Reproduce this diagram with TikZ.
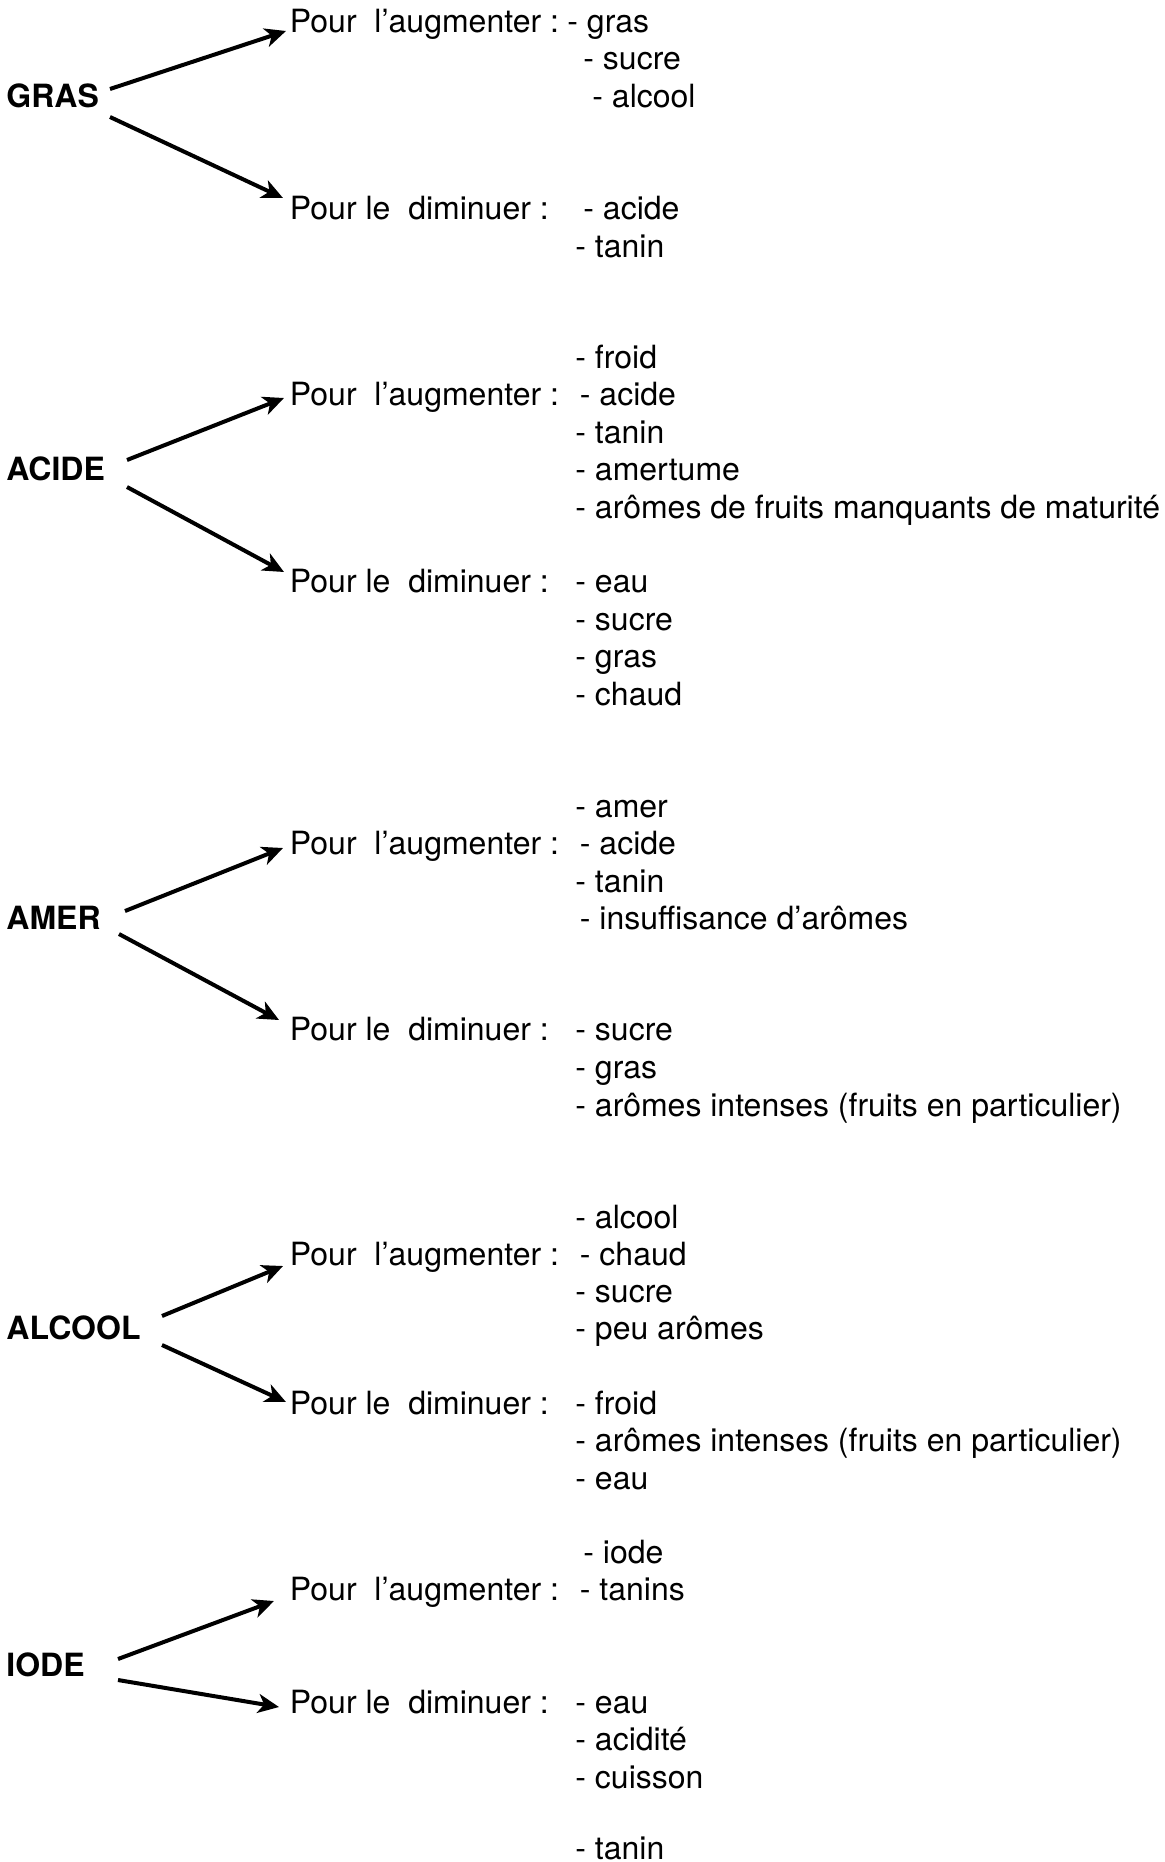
\documentclass[tikz,border=0pt]{standalone}
\usepackage{fontspec}
\setmainfont{TeX Gyre Heros}
\usetikzlibrary{arrows.meta}
\begin{document}
\begin{tikzpicture}[x=0.5pt,y=-0.5pt,
  txt/.style={anchor=base west,inner sep=0pt,font=\fontsize{16}{18}\selectfont},
  lbl/.style={txt,font=\fontsize{16}{18}\selectfont\bfseries},
  arr/.style={line width=2pt,-{Stealth[length=10.5pt,width=9.5pt,inset=3pt]}}]
\useasboundingbox (0,0) rectangle (1164,1862);
% ---------- GRAS
\node[lbl] (g) at (6,107.5) {GRAS};
\node[txt] (gp) at (289.5,33) {Pour\ \ l’augmenter :};
\node[txt] (g1) at (567,33) {- gras};
\node[txt] (g2) at (583,70) {- sucre};
\node[txt] (g3) at (592,107.5) {- alcool};
\node[txt] (gm) at (289.5,219.5) {Pour le\ \ diminuer :};
\node[txt] (g4) at (583,219.5) {- acide};
\node[txt] (g5) at (575,257) {- tanin};
\coordinate (gs1) at (110,89);  \coordinate (ge1) at (286,31);
\coordinate (gs2) at (110,117); \coordinate (ge2) at (283,198);
\draw[arr] (gs1) -- (ge1);
\draw[arr] (gs2) -- (ge2);
% ---------- ACIDE
\node[lbl] (a) at (6,480.5) {ACIDE};
\node[txt] (a1) at (575,368) {- froid};
\node[txt] (ap) at (289.5,405.5) {Pour\ \ l’augmenter :};
\node[txt] (a2) at (579.5,405.5) {- acide};
\node[txt] (a3) at (575,443) {- tanin};
\node[txt] (a4) at (575,480.5) {- amertume};
\node[txt] (a5) at (575,518) {- arômes de fruits manquants de maturité};
\node[txt] (am) at (289.5,592.5) {Pour le\ \ diminuer :};
\node[txt] (a6) at (575,592.5) {- eau};
\node[txt] (a7) at (575,630) {- sucre};
\node[txt] (a8) at (575,667.5) {- gras};
\node[txt] (a9) at (575,705) {- chaud};
\coordinate (as1) at (127,460); \coordinate (ae1) at (284,398);
\coordinate (as2) at (127,487); \coordinate (ae2) at (284,572);
\draw[arr] (as1) -- (ae1);
\draw[arr] (as2) -- (ae2);
% ---------- AMER
\node[txt] (m1) at (575,817) {- amer};
\node[txt] (mp) at (289.5,854.5) {Pour\ \ l’augmenter :};
\node[txt] (m2) at (579.5,854.5) {- acide};
\node[txt] (m3) at (575,892) {- tanin};
\node[lbl] (m) at (6,929) {AMER};
\node[txt] (m4) at (579.5,929) {- insuffisance d’arômes};
\node[txt] (mm) at (289.5,1040) {Pour le\ \ diminuer :};
\node[txt] (m5) at (575,1040) {- sucre};
\node[txt] (m6) at (575,1078) {- gras};
\node[txt] (m7) at (575,1116) {- arômes intenses (fruits en particulier)};
\coordinate (ms1) at (125,911); \coordinate (me1) at (283,848);
\coordinate (ms2) at (119,934); \coordinate (me2) at (279,1020);
\draw[arr] (ms1) -- (me1);
\draw[arr] (ms2) -- (me2);
% ---------- ALCOOL
\node[txt] (c1) at (575,1228) {- alcool};
\node[txt] (cp) at (289.5,1265) {Pour\ \ l’augmenter :};
\node[txt] (c2) at (579.5,1265) {- chaud};
\node[txt] (c3) at (575,1302.5) {- sucre};
\node[lbl] (c) at (6,1339.5) {ALCOOL};
\node[txt] (c4) at (575,1339.5) {- peu arômes};
\node[txt] (cm) at (289.5,1414) {Pour le\ \ diminuer :};
\node[txt] (c5) at (575,1414) {- froid};
\node[txt] (c6) at (575,1451.5) {- arômes intenses (fruits en particulier)};
\node[txt] (c7) at (575,1489) {- eau};
\coordinate (cs1) at (162,1316); \coordinate (ce1) at (283,1266);
\coordinate (cs2) at (162,1345); \coordinate (ce2) at (286,1402);
\draw[arr] (cs1) -- (ce1);
\draw[arr] (cs2) -- (ce2);
% ---------- IODE
\node[txt] (i1) at (583,1563) {- iode};
\node[txt] (ip) at (289.5,1600.5) {Pour\ \ l’augmenter :};
\node[txt] (i2) at (579.5,1600.5) {- tanins};
\node[lbl] (i) at (6,1676) {IODE};
\node[txt] (im) at (289.5,1713.5) {Pour le\ \ diminuer :};
\node[txt] (i3) at (575,1713.5) {- eau};
\node[txt] (i4) at (575,1750.5) {- acidité};
\node[txt] (i5) at (575,1788) {- cuisson};
\node[txt] (i6) at (575,1859) {- tanin};
\coordinate (is1) at (118,1659); \coordinate (ie1) at (274,1601);
\coordinate (is2) at (118,1680); \coordinate (ie2) at (279,1707);
\draw[arr] (is1) -- (ie1);
\draw[arr] (is2) -- (ie2);
\end{tikzpicture}
\end{document}
